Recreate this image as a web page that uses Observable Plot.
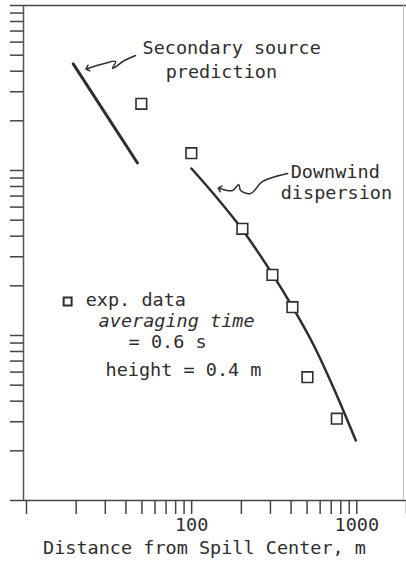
<!DOCTYPE html>
<html><head><meta charset="utf-8">
<script src="https://cdn.jsdelivr.net/npm/d3@7"></script>
<script src="https://cdn.jsdelivr.net/npm/@observablehq/plot@0.6"></script>
<style>
html,body{margin:0;padding:0;background:#fff;}
</style></head><body><div id="chart"></div>
<script>
// experimental data (squares)
const expDistance = [51.7, 103.8, 211.6, 321.6, 425, 524, 789];
const expConc = [0.2536, 0.1273, 0.0443, 0.0233, 0.01484, 0.00559, 0.00313];
// secondary source prediction line
const secondaryDistance = [20, 49];
const secondaryConc = [0.443, 0.111];
// downwind dispersion curve
const downwindDistance = [104, 146, 209, 323, 427, 573, 757, 1028];
const downwindConc = [0.1028, 0.0696, 0.0445, 0.0234, 0.0148, 0.0087, 0.00477, 0.00231];
// axis
const xTickLabels = [100, 1000];
const xAxisTitle = "Distance from Spill Center, m";
// annotations (anchor positions in data units)
const noteText = ["Secondary source", "prediction", "Downwind", "dispersion", "exp. data", "= 0.6 s", "height = 0.4 m"];
const noteX = [52.6, 72.6, 415, 361, 23.8, 43.3, 31.4];
const noteY = [0.5487, 0.3926, 0.0972, 0.0726, 0.0163, 0.00907, 0.00614];
const italicNote = "averaging time";
const italicX = [28.5];
const italicY = [0.01216];
const legendX = [18.5];
const legendY = [0.01607];
const squiggle1X = [47.7, 40.9, 34.6, 36.1, 31.0, 24.4];
const squiggle1Y = [0.4977, 0.464, 0.415, 0.4576, 0.445, 0.415];
const squiggle2X = [398, 281, 237.5, 206.5, 201, 184.8, 154.1];
const squiggle2Y = [0.0959, 0.0858, 0.0726, 0.0756, 0.0822, 0.0756, 0.0778];

const ink = "#2e2e2e";
const FONT = "DejaVu Sans Mono";

const expData = expDistance.map((x, i) => ({x, y: expConc[i]}));
const secData = secondaryDistance.map((x, i) => ({x, y: secondaryConc[i]}));
const dwData = downwindDistance.map((x, i) => ({x, y: downwindConc[i]}));
const notes = noteText.map((t, i) => ({t, x: noteX[i], y: noteY[i]}));
const sq1 = squiggle1X.map((x, i) => ({x, y: squiggle1Y[i]}));
const sq2 = squiggle2X.map((x, i) => ({x, y: squiggle2Y[i]}));

const xDomain = [10, 2000];
const yDomain = [0.001, 1];
const xTicks = d3.scaleLog().domain(xDomain).ticks();
const yTicks = d3.scaleLog().domain(yDomain).ticks();

const chart = Plot.plot({
  width: 406,
  height: 563,
  marginLeft: 23,
  marginRight: 3,
  marginTop: 5,
  marginBottom: 63,
  style: {fontFamily: FONT, fontSize: "18.5px", color: ink, background: "#fff"},
  x: {type: "log", domain: xDomain},
  y: {type: "log", domain: yDomain},
  marks: [
    // frame
    Plot.ruleY([1], {x1: 10, x2: 2100, stroke: "#444", strokeWidth: 1.5}),
    Plot.ruleY([0.001], {x1: 10, x2: 2100, stroke: "#444", strokeWidth: 1.5}),
    Plot.ruleX([10], {stroke: "#555", strokeWidth: 1.5}),
    Plot.ruleX([2000], {stroke: "#bbb", strokeWidth: 1}),
    Plot.axisY({ticks: yTicks, tickSize: 13, tickFormat: () => "", label: null, stroke: "#444", strokeWidth: 1.5}),
    Plot.axisX({ticks: xTicks, tickSize: 14, tickPadding: 3, label: null, stroke: "#444", strokeWidth: 1.5,
      tickFormat: d => xTickLabels.includes(d) ? String(d) : "", dx: 3, fill: ink}),
    Plot.text([xAxisTitle], {frameAnchor: "bottom", text: d => d, dy: 53, dx: -9, fill: ink}),
    // curves
    Plot.line(secData, {x: "x", y: "y", stroke: ink, strokeWidth: 3}),
    Plot.line(dwData, {x: "x", y: "y", stroke: ink, strokeWidth: 2.5, curve: "catmull-rom"}),
    Plot.dot(expData, {x: "x", y: "y", symbol: "square", r: 6, stroke: ink, strokeWidth: 1.6, fill: "white"}),
    // annotations
    Plot.line(sq1, {x: "x", y: "y", stroke: ink, strokeWidth: 1.5, curve: "catmull-rom", markerEnd: "arrow"}),
    Plot.line(sq2, {x: "x", y: "y", stroke: ink, strokeWidth: 1.5, curve: "catmull-rom", markerEnd: "arrow"}),
    Plot.text(notes, {x: "x", y: "y", text: "t", textAnchor: "start", fill: ink}),
    Plot.text([italicNote], {x: () => italicX[0], y: () => italicY[0], text: d => d, textAnchor: "start", fontStyle: "italic", fill: ink}),
    Plot.dot(legendX.map((x, i) => ({x, y: legendY[i]})), {x: "x", y: "y", symbol: "square", r: 4.5, stroke: ink, strokeWidth: 2, fill: "white"})
  ]
});
document.getElementById("chart").appendChild(chart);
</script>
</body></html>
